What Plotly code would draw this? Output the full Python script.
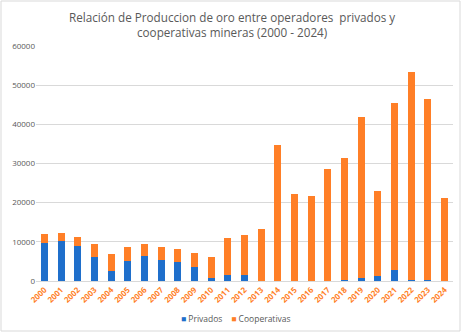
import plotly.graph_objects as go

years = [str(y) for y in range(2000, 2025)]
totales = [12000, 12330, 11230, 9350, 6800, 8640, 9490, 8640, 8200, 7100, 6240, 10950,
           11770, 13230, 34730, 22110, 21680, 28590, 31400, 41900, 23040, 45560, 53240, 46500, 21240]
privados = [9600, 10290, 8840, 6030, 2550, 5210, 6410, 5470, 4870, 3590, 850, 1450,
            1460, 0, 0, 0, 0, 0, 200, 770, 1200, 2730, 200, 150, 0]
cooperativas = [t - p for t, p in zip(totales, privados)]
BLUE, ORANGE = "#1F6FCB", "#FF7F27"

fig = go.Figure()
fig.add_trace(go.Bar(x=years, y=privados, name="Privados", marker_color=BLUE,
                     marker_line_width=0))
fig.add_trace(go.Bar(x=years, y=cooperativas, name="Cooperativas", marker_color=ORANGE,
                     marker_line_width=0))

L, T, W, H = 36, 46, 417, 235

fig.update_layout(
    barmode="stack",
    bargap=0.58,
    width=465, height=332,
    margin=dict(l=36, r=12, t=46, b=51, autoexpand=False),
    paper_bgcolor="white", plot_bgcolor="white",
    font=dict(family="Open Sans, Liberation Sans, sans-serif", color="#595959"),
    showlegend=False,
    xaxis=dict(tickangle=-45, tickfont=dict(size=8, color=ORANGE, family="Open Sans, sans-serif"),
               showline=True, linecolor="#D9D9D9", linewidth=1, ticks="", showgrid=False),
    yaxis=dict(range=[0, 60000], dtick=10000, tickformat="d", showgrid=True, gridcolor="#D9D9D9",
               gridwidth=1, zeroline=False, tickfont=dict(size=8, color="#595959"), ticks="",
               showline=False),
    annotations=[
        dict(text="Relación de Produccion de oro entre operadores  privados y<br>cooperativas mineras (2000 - 2024)",
             xref="paper", yref="paper", x=(232 - L) / W, y=(281 - 24.5) / H,
             xanchor="center", yanchor="middle", showarrow=False,
             font=dict(size=11.7, color="#595959")),
        dict(text=f"<span style='color:{BLUE}'>■</span> Privados    <span style='color:{ORANGE}'>■</span> Cooperativas",
             xref="paper", yref="paper", x=(236 - L) / W, y=-(318 - 281) / H,
             xanchor="center", yanchor="middle", showarrow=False,
             font=dict(size=8.5, color="#595959")),
    ],
    shapes=[dict(type="rect", xref="paper", yref="paper",
                 x0=(1 - L) / W, x1=(460 - L) / W,
                 y0=-(331 - 281) / H, y1=(281 - 1) / H,
                 line=dict(color="#D9D9D9", width=1), fillcolor="rgba(0,0,0,0)", layer="below")],
)
fig.update_xaxes(tickfont_weight="bold")

fig.write_html("out.html")
